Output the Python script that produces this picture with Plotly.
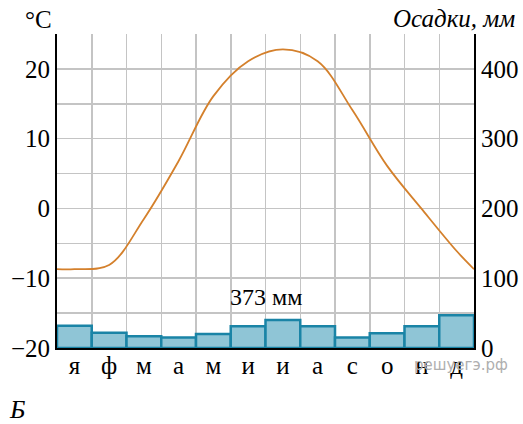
import numpy as np
import plotly.graph_objects as go

months = ["я", "ф", "м", "а", "м", "и", "и", "а", "с", "о", "н", "д"]
precip_mm = [32, 22, 17, 15, 20, 31, 40, 31, 15, 21, 31, 47]
temp_c = [-8.7, -8.1, -1.5, 6.8, 16.1, 21.1, 22.8, 21.1, 14.1, 6.1, -0.1, -6.1]
temp_start = -8.7   # value at the left edge (start of January)
temp_end = -8.7     # value at the right edge (end of December)
total_label = "373 мм"

centers = np.arange(len(months)) + 0.5
tx = np.concatenate([[0], centers, [len(months)]])
ty = np.concatenate([[temp_start], temp_c, [temp_end]])

SERIF = "Liberation Serif"
fig = go.Figure()
fig.add_trace(go.Bar(
    x=centers, y=precip_mm, width=1.0, yaxis="y",
    marker=dict(color="#8FC5D6", line=dict(color="#1A84A6", width=2.5)),
    showlegend=False, hoverinfo="skip"))
fig.add_trace(go.Scatter(
    x=tx, y=ty, yaxis="y2", mode="lines",
    line=dict(color="#D4802C", width=1.8, shape="spline", smoothing=1.0),
    showlegend=False, hoverinfo="skip"))

grid_vals = list(range(0, 451, 50))
grid_text = [str(v) if v % 100 == 0 and v < 450 else "" for v in grid_vals]
t_vals = list(range(-20, 21, 10))
t_text = [("−" + str(-v)) if v < 0 else str(v) for v in t_vals]

fig.update_layout(
    width=523, height=424,
    margin=dict(l=57, r=49, t=34, b=76, autoexpand=False),
    paper_bgcolor="white", plot_bgcolor="white",
    bargap=0,
    font=dict(family=SERIF, size=25, color="black"),
    xaxis=dict(range=[0, 12], tickvals=centers, ticktext=months,
               showgrid=False, showline=True, linecolor="black", linewidth=2,
               ticks="", zeroline=False, tickfont=dict(size=25),
               ticklabelstandoff=-6,
               minor=dict(tickvals=list(range(0, 13)), showgrid=True,
                          gridcolor="#C4C4C4", gridwidth=1.5, ticks="")),
    yaxis=dict(range=[0, 450], side="right", tickvals=grid_vals, ticktext=grid_text,
               showgrid=True, gridcolor="#C4C4C4", gridwidth=1.5,
               showline=True, linecolor="black", linewidth=2, ticks="",
               zeroline=False, tickfont=dict(size=25)),
    yaxis2=dict(range=[-20, 25], side="left", overlaying="y", anchor="x",
                tickvals=t_vals, ticktext=t_text, showgrid=False,
                showline=True, linecolor="black", linewidth=2, ticks="",
                zeroline=False, tickfont=dict(size=25)),
    annotations=[
        dict(text="°C", xref="paper", yref="paper", x=-0.008, y=1.045,
             xanchor="right", yanchor="middle", showarrow=False,
             font=dict(family=SERIF, size=25)),
        dict(text="<i>Осадки, мм</i>", xref="paper", yref="paper", x=1.103, y=1.05,
             xanchor="right", yanchor="middle", showarrow=False,
             font=dict(family=SERIF, size=25)),
        dict(text=total_label, xref="x", yref="y", x=6, y=73,
             xanchor="center", yanchor="middle", showarrow=False,
             font=dict(family=SERIF, size=24)),
        dict(text="<i>Б</i>", xref="paper", yref="paper", x=-0.096, y=-0.197,
             xanchor="center", yanchor="middle", showarrow=False,
             font=dict(family=SERIF, size=26)),
        dict(text="решуегэ.рф", xref="paper", yref="paper", x=0.968, y=-0.055,
             xanchor="center", yanchor="middle", showarrow=False,
             font=dict(family="DejaVu Sans", size=15, color="#AFAFAF")),
    ],
)

fig.write_html("out.html", config={"displayModeBar": False, "staticPlot": True},
               post_script="document.body.style.margin='0';document.body.style.overflow='hidden';")
